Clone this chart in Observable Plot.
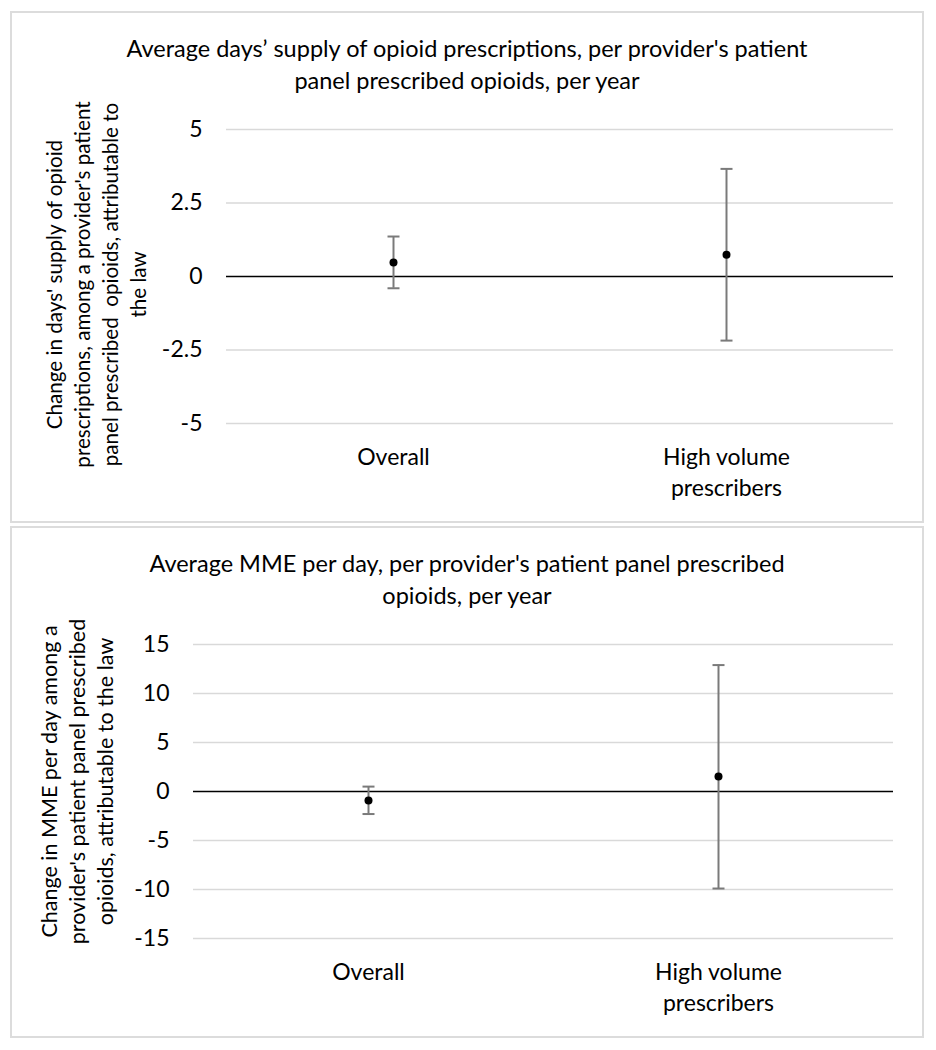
<!DOCTYPE html>
<html>
<head>
<meta charset="utf-8">
<script src="https://cdn.jsdelivr.net/npm/d3@7"></script>
<script src="https://cdn.jsdelivr.net/npm/@observablehq/plot@0.6"></script>
<style>
  body { margin: 0; background: #fff; font-family: Lato, "Open Sans", sans-serif; }
  #root { position: relative; width: 936px; height: 1050px; }
  .panel { position: absolute; left: 11px; width: 912px; height: 510px; outline: 2px solid #dcdcdc; outline-offset: -1px; background: #fff; }
  .panel svg { position: absolute; left: 0; top: 0; }
  .title { position: absolute; left: 0; top: 20px; width: 912px; text-align: center; font-size: 23.5px; line-height: 32px; color: #000; white-space: pre-line; }
</style>
</head>
<body>
<div id="root"></div>
<script>
// ---- data ----
const categories = ["Overall", "High volume prescribers"];
const categoryLabels = ["Overall", "High volume\nprescribers"];

const daysEstimate = [0.48, 0.74];
const daysLower = [-0.40, -2.18];
const daysUpper = [1.36, 3.66];
const daysTicks = [-5, -2.5, 0, 2.5, 5];
const daysTickLabels = ["-5", "-2.5", "0", "2.5", "5"];

const mmeEstimate = [-0.92, 1.53];
const mmeLower = [-2.3, -9.9];
const mmeUpper = [0.5, 12.9];
const mmeTicks = [-15, -10, -5, 0, 5, 10, 15];
const mmeTickLabels = ["-15", "-10", "-5", "0", "5", "10", "15"];

const daysTitle = "Average days\u2019 supply of opioid prescriptions, per provider's patient\npanel prescribed opioids, per year";
const daysYLabel = "Change in days' supply of opioid\nprescriptions, among a provider's patient\npanel prescribed  opioids, attributable to\nthe law";
const mmeTitle = "Average MME per day, per provider's patient panel prescribed\nopioids, per year";
const mmeYLabel = "Change in MME per day among a\nprovider's patient panel prescribed\nopioids, attributable to the law";

// ---- drawing ----
const capSymbol = { draw(ctx) { ctx.moveTo(-6, 0); ctx.lineTo(6, 0); } };

function makePanel({top, title, yLabel, est, lo, hi, ticks, tickLabels, marginLeft, yLabelX, yLabelY, yLabelSize}) {
  const W = 912, H = 510, mTop = 117, mBottom = 99, mRight = 30;
  const rows = categories.map((c, i) => ({cat: c, est: est[i], lo: lo[i], hi: hi[i]}));
  const labelOf = new Map(categories.map((c, i) => [c, categoryLabels[i]]));
  const tickLab = new Map(ticks.map((t, i) => [t, tickLabels[i]]));
  const frameCenterY = mTop + (H - mTop - mBottom) / 2;
  const chart = Plot.plot({
    width: W, height: H,
    marginTop: mTop, marginBottom: mBottom, marginLeft, marginRight: mRight,
    style: {fontFamily: "Lato, 'Open Sans', sans-serif", fontSize: "23px", color: "#000", background: "transparent", overflow: "visible"},
    x: {type: "point", domain: categories, padding: 0.5},
    y: {domain: [ticks[0], ticks[ticks.length - 1]]},
    marks: [
      Plot.ruleY(ticks.filter(t => t !== 0), {stroke: "#d9d9d9", strokeWidth: 1.6}),
      Plot.ruleY([0], {stroke: "#000", strokeWidth: 1.5}),
      Plot.axisY({ticks, tickSize: 0, tickPadding: 24, fontSize: 23, tickFormat: t => tickLab.get(t), label: null}),
      Plot.axisX({tickSize: 0, tickPadding: 19, fontSize: 23, lineHeight: 1.35, tickFormat: c => labelOf.get(c), label: null, lineAnchor: "top"}),
      Plot.ruleX(rows, {x: "cat", y1: "lo", y2: "hi", stroke: "#7a7a7a", strokeWidth: 2}),
      Plot.dot(rows, {x: "cat", y: "lo", symbol: capSymbol, stroke: "#7a7a7a", strokeWidth: 2, fill: "none"}),
      Plot.dot(rows, {x: "cat", y: "hi", symbol: capSymbol, stroke: "#7a7a7a", strokeWidth: 2, fill: "none"}),
      Plot.dot(rows, {x: "cat", y: "est", r: 4, fill: "#000"}),
      Plot.text([yLabel], {frameAnchor: "left", textAnchor: "middle", lineAnchor: "middle", rotate: -90,
        dx: yLabelX - marginLeft, dy: yLabelY - frameCenterY, fontSize: yLabelSize, lineHeight: 28 / yLabelSize, fill: "#000"})
    ]
  });
  const panel = document.createElement("div");
  panel.className = "panel";
  panel.style.top = top + "px";
  panel.appendChild(chart);
  const t = document.createElement("div");
  t.className = "title";
  t.textContent = title;
  panel.appendChild(t);
  document.getElementById("root").appendChild(panel);
}

makePanel({top: 12, title: daysTitle, yLabel: daysYLabel, est: daysEstimate, lo: daysLower, hi: daysUpper,
  ticks: daysTicks, tickLabels: daysTickLabels, marginLeft: 215, yLabelX: 84, yLabelY: 272, yLabelSize: 20.6});
makePanel({top: 527, title: mmeTitle, yLabel: mmeYLabel, est: mmeEstimate, lo: mmeLower, hi: mmeUpper,
  ticks: mmeTicks, tickLabels: mmeTickLabels, marginLeft: 182, yLabelX: 65, yLabelY: 254, yLabelSize: 21.5});
</script>
</body>
</html>
